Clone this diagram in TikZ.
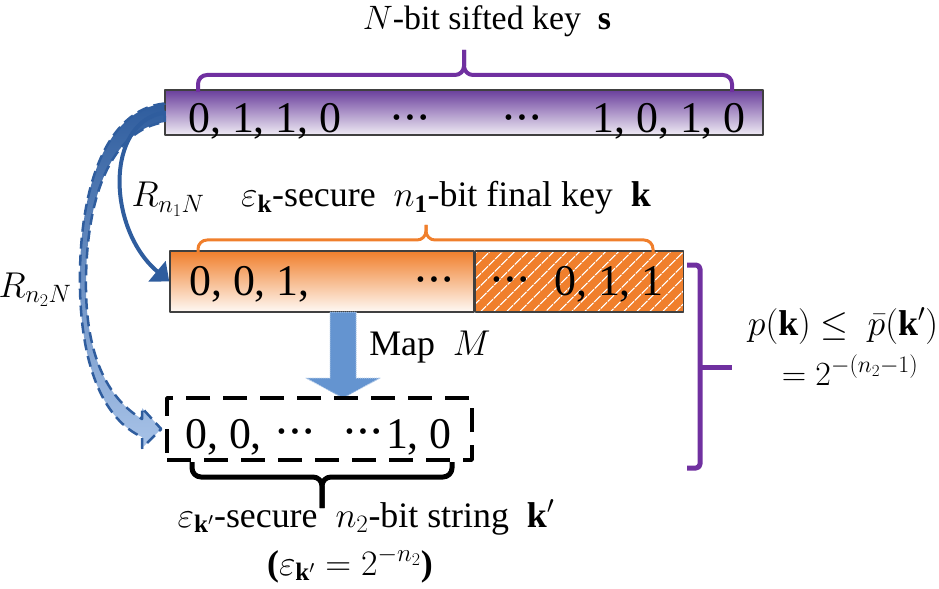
\RequirePackage{fix-cm}
\documentclass[tikz,border=0pt]{standalone}
\usepackage{fontspec}
\setmainfont{Liberation Serif}
\usetikzlibrary{positioning,arrows.meta,patterns.meta}
\definecolor{keypurple}{HTML}{7030A0}
\definecolor{boxpurple}{HTML}{6A3F9C}
\definecolor{keyorange}{HTML}{F07F2C}
\definecolor{arrowblue}{HTML}{2F5D9E}
\definecolor{lightblue}{HTML}{A8C3E8}
\definecolor{mapblue}{HTML}{6494D0}
\newcommand{\bitdots}{•\kern5bp•\kern5bp•}
\tikzset{
  keybox/.style={draw=black!75, line width=1.5bp, inner sep=0pt},
  bits/.style={font=\fontsize{44}{48}\selectfont, inner sep=0pt},
  dots/.style={font=\fontsize{24}{24}\selectfont, inner sep=0pt},
  txt/.style={font=\fontsize{36}{42}\selectfont, inner sep=0pt, anchor=base},
  bracket/.style={line width=#1, rounded corners=9bp},
}
\begin{document}
\begin{tikzpicture}[x=1bp, y=-1bp, line join=round, >=stealth]
\useasboundingbox (0,0) rectangle (939,589);
% boxes
\node[keybox, top color=boxpurple, bottom color=boxpurple!10,
  minimum width=598bp, minimum height=45bp] (sifted) at (464,112.5) {};
\node[keybox, top color=keyorange, bottom color=keyorange!5,
  minimum width=304bp, minimum height=61bp] (finalL) at (322,281.5) {};
\node[keybox, preaction={fill=keyorange}, pattern color=white,
  pattern={Lines[angle=45,distance=10bp,line width=1.3bp]},
  minimum width=208bp, minimum height=61bp, right=0pt of finalL] (finalR) {};
% map arrow
\coordinate (mapTop) at (343,312);
\coordinate (mapTip) at (343,398);
\filldraw[fill=mapblue, draw=mapblue!50!white, densely dotted, line width=1bp]
  (mapTop) ++(-13,0) -- ++(26,0) -- ++(0,66) -- ++(24,0) -- (mapTip)
  -- ++(-37,-20) -- ++(24,0) -- cycle;
\node[draw, line width=3.5bp, dash pattern=on 24bp off 13bp, inner sep=0pt,
  minimum width=305bp, minimum height=62bp] (partial) at (319.5,429) {};
% bits
\node[bits, anchor=base west] (s1) at (188,133) {0, 1, 1, 0};
\node[dots] (s2) at (410,120) {\bitdots};
\node[dots] (s3) at (522,120) {\bitdots};
\node[bits, anchor=base east] (s4) at (746,133) {1, 0, 1, 0};
\node[bits, anchor=base west] (k1) at (189,295) {0, 0, 1,};
\node[dots] (k2) at (434,282) {\bitdots};
\node[dots] (k3) at (510,282) {\bitdots};
\node[bits, anchor=base east] (k4) at (664,295) {0, 1, 1};
\node[bits, anchor=base west] (p1) at (185,448) {0, 0,};
\node[dots] (p2) at (295,434) {\bitdots};
\node[dots] (p3) at (363,434) {\bitdots};
\node[bits, anchor=base east] (p4) at (452,448) {1, 0};
% brackets
\draw[keypurple, bracket=4bp] (198,92) -- (198,75) -- (464,75) -- (464,50);
\draw[keypurple, bracket=4bp] (732,92) -- (732,75) -- (464,75) -- (464,50);
\draw[keyorange, bracket=3bp] (198,252) -- (198,240) -- (426,240) -- (426,225);
\draw[keyorange, bracket=3bp] (653,252) -- (653,240) -- (426,240) -- (426,225);
\draw[black, bracket=5bp] (192,462) -- (192,477) -- (322,477) -- (322,508);
\draw[black, bracket=5bp] (452,462) -- (452,477) -- (322,477) -- (322,508);
\draw[keypurple, line width=5bp, rounded corners=4bp] (687,265) -- (700,265) -- (700,468) -- (687,468);
\draw[keypurple, line width=5bp] (700,367) -- (732,367);
% R arrows
\shadedraw[top color=arrowblue, bottom color=lightblue, draw=arrowblue,
  line width=2.5bp, dash pattern=on 11bp off 6bp]
  (sifted.west) ++(0,-9) .. controls (105,110) and (78,190) .. (80,290)
  .. controls (82,370) and (105,420) .. (142,437) -- (142,448)
  -- ([xshift=-4bp]partial.west) -- (142,408) -- (142,419)
  .. controls (110,400) and (87,360) .. (86,290)
  .. controls (85,195) and (112,130) .. (165,122) -- cycle;
\draw[arrowblue, line width=4bp, -{Triangle[length=16bp,width=26bp]}]
  (sifted.west) .. controls +(-60,10) and +(-62,-52) .. (finalL.west);
% labels
\node[txt, font=\fontsize{34}{40}\selectfont] (lblS) at (487,30) {$N$-bit sifted key\ \ $\mathbf{s}$};
\node[txt] (lblR1) at (168,207) {$R_{n_1N}$};
\node[txt] (lblR2) at (35,297) {$R_{n_2N}$};
\node[txt] (lblK) at (446,207) {$\varepsilon_{\mathbf{k}}$-secure\ \ $n_{\mathbf{1}}$-bit final key\ \ $\mathbf{k}$};
\node[txt] (lblM) at (430,355) {Map\ \ $M$};
\node[txt] (lblP) at (366,527) {$\varepsilon_{\mathbf{k}'}$-secure\ \ $n_2$-bit string\ \ $\mathbf{k}'$};
\node[txt] (lblE) at (350,575) {\textbf{(}$\varepsilon_{\mathbf{k}'}=2^{-n_2}$\textbf{)}};
\node[txt] (lblB1) at (843,335) {$p(\mathbf{k})\leq\ \bar{p}(\mathbf{k}')$};
\node[txt, font=\fontsize{34}{40}\selectfont] (lblB2) at (850,385) {$=2^{-(n_2-1)}$};
\end{tikzpicture}
\end{document}
